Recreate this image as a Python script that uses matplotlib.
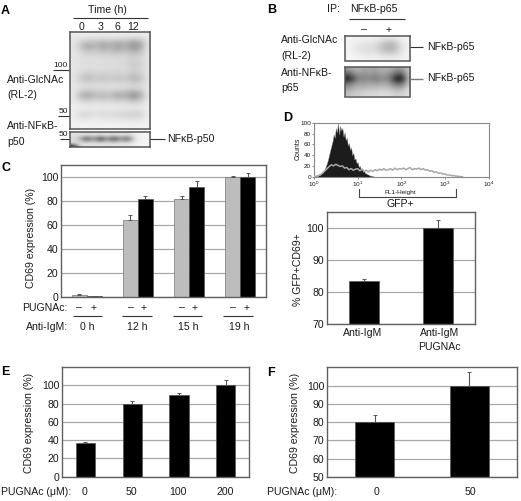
import numpy as np
import matplotlib
matplotlib.use("Agg")
import matplotlib.pyplot as plt

plt.rcParams['font.family'] = ['Liberation Sans', 'DejaVu Sans']
plt.rcParams['mathtext.fontset'] = 'custom'
plt.rcParams['mathtext.rm'] = 'Liberation Sans'
plt.rcParams['mathtext.default'] = 'regular'

W, H = 521, 501
BLACK = '#000000'
SPINE = '#606060'
GRID = '#a8a8a8'
TXT = '#1a1a1a'

# ---------- panel C ----------
c_groups = ['0 h', '12 h', '15 h', '19 h']
c_minus = [1.5, 64, 82, 100]
c_minus_err = [0.7, 4.5, 2.5, 1.2]
c_plus = [0.7, 81.5, 92, 100]
c_plus_err = [0.2, 2.8, 4.5, 3.5]
c_ticks = [0, 20, 40, 60, 80, 100]

# ---------- panel D ----------
d_labels = ['Anti-IgM', 'Anti-IgM']
d_vals = [83.3, 100]
d_errs = [0.7, 2.5]
d_ticks = [70, 80, 90, 100]

# flow histogram: counts every 0.025 decade from 10^0
d_black = [0, 0, 1, 1, 2, 3, 4, 6, 8, 11, 15, 20, 26, 33, 42, 50, 58, 66, 78, 72, 90, 82,
           100, 78, 94, 86, 90, 74, 82, 68, 72, 58, 62, 50, 54, 40, 44, 32, 34, 25, 27, 18,
           20, 13, 14, 9, 10, 6, 6, 4, 4, 2, 2, 1, 1, 0]
# grey histogram: counts every 0.05 decade from 10^0
d_grey = [0, 1, 2, 4, 7, 11, 15, 19, 22, 20, 23, 21, 19, 20, 16, 17, 13, 15, 12, 14, 15,
          11, 14, 10, 12, 9, 12, 10, 13, 11, 14, 12, 15, 12, 13, 15, 12, 16, 13, 15, 14,
          16, 13, 15, 17, 13, 15, 14, 16, 13, 15, 12, 13, 10, 11, 8, 9, 6, 7, 5, 5, 3, 3,
          2, 2, 1, 1, 0, 0]
d_hist_yticks = [0, 20, 40, 60, 80, 100]

# ---------- panel E ----------
e_labels = ['0', '50', '100', '200']
e_vals = [37, 80, 89.5, 100]
e_errs = [1.2, 2.3, 2.3, 6]
e_ticks = [0, 20, 40, 60, 80, 100]

# ---------- panel F ----------
f_labels = ['0', '50']
f_vals = [80, 100]
f_errs = [3.7, 7.5]
f_ticks = [50, 60, 70, 80, 90, 100]

# ---------- blots: darkness, coarse grid ----------
blot_a = [
    [.10, .10, .10, .10, .10, .10, .10, .10, .10, .10, .10],
    [.14, .16, .20, .20, .22, .20, .22, .22, .26, .26, .14],
    [.14, .28, .42, .34, .46, .38, .48, .38, .54, .50, .14],
    [.14, .32, .50, .36, .50, .40, .54, .42, .58, .52, .14],
    [.14, .22, .30, .27, .34, .30, .38, .30, .40, .36, .14],
    [.14, .18, .22, .20, .22, .22, .24, .22, .28, .26, .14],
    [.14, .17, .19, .18, .19, .19, .20, .20, .27, .24, .14],
    [.14, .17, .19, .18, .19, .19, .20, .20, .30, .28, .14],
    [.14, .17, .20, .19, .20, .20, .21, .20, .26, .24, .14],
    [.14, .22, .30, .25, .26, .24, .27, .24, .32, .30, .14],
    [.14, .30, .38, .28, .34, .28, .34, .28, .40, .36, .14],
    [.14, .22, .26, .22, .24, .22, .24, .22, .30, .28, .14],
    [.12, .16, .18, .17, .17, .17, .17, .17, .20, .20, .12],
    [.12, .30, .36, .28, .30, .26, .34, .32, .46, .38, .12],
    [.12, .42, .50, .36, .42, .34, .52, .42, .62, .50, .12],
    [.12, .24, .30, .22, .26, .22, .30, .24, .38, .32, .12],
    [.10, .12, .14, .13, .14, .13, .15, .14, .18, .16, .10],
    [.10, .11, .13, .12, .13, .12, .13, .13, .15, .14, .10],
    [.10, .22, .22, .16, .24, .18, .25, .24, .27, .26, .10],
    [.10, .16, .16, .12, .15, .14, .18, .18, .20, .18, .10],
    [.08, .09, .10, .09, .10, .09, .10, .10, .11, .10, .08],
    [.07, .07, .07, .07, .07, .07, .07, .07, .07, .07, .07],
]
blot_a2 = [
    [.12, .12, .13, .12, .13, .12, .13, .12, .13, .08, .05, .04],
    [.14, .16, .28, .18, .30, .18, .30, .18, .28, .10, .05, .04],
    [.14, .30, .72, .36, .78, .38, .74, .38, .66, .14, .05, .04],
    [.14, .24, .50, .28, .58, .30, .56, .30, .48, .12, .05, .04],
    [.22, .14, .15, .14, .16, .14, .15, .13, .14, .08, .05, .04],
    [.90, .12, .12, .12, .12, .11, .11, .10, .10, .07, .05, .04],
]
blot_b1 = [
    [.05, .05, .06, .06, .07, .08, .09, .08, .06, .05],
    [.05, .08, .10, .11, .12, .20, .30, .28, .12, .06],
    [.05, .10, .15, .16, .16, .28, .38, .34, .15, .06],
    [.05, .08, .12, .13, .13, .20, .26, .24, .12, .06],
    [.04, .05, .06, .07, .07, .08, .09, .09, .07, .05],
]
blot_b2 = [
    [.40, .34, .30, .38, .34, .38, .32, .32, .34, .40, .38, .24],
    [.62, .50, .40, .44, .40, .44, .38, .40, .48, .66, .58, .26],
    [.98, .76, .52, .52, .50, .56, .50, .48, .66, 1.0, .92, .30],
    [.58, .46, .38, .40, .36, .40, .36, .36, .46, .62, .56, .24],
    [.38, .32, .28, .28, .24, .26, .22, .24, .28, .34, .30, .16],
    [.26, .22, .20, .18, .16, .16, .14, .14, .16, .20, .18, .12],
]

fig = plt.figure(figsize=(W / 100, H / 100), dpi=100, facecolor='white')


def box(l, t, r, b):
    return fig.add_axes([l / W, 1 - b / H, (r - l) / W, (b - t) / H])


# overlay in pixel coordinates for labels and brackets
ov = fig.add_axes([0, 0, 1, 1], zorder=10)
ov.set_xlim(0, W)
ov.set_ylim(H, 0)
ov.axis('off')
ov.patch.set_alpha(0)


def T(x, y, s, ha='left', size=7.6, **kw):
    kw.setdefault('color', TXT)
    ov.text(x, y, s, ha=ha, va='center', fontsize=size, **kw)


def L(x0, x1, y0, y1=None, color='#333333', lw=0.8):
    ov.plot([x0, x1], [y0, y0 if y1 is None else y1], color=color, lw=lw, solid_capstyle='butt')


def barpanel(ax, ylim, ticks):
    ax.set_ylim(*ylim)
    ax.set_yticks(ticks)
    ax.set_xticks([])
    ax.yaxis.grid(True, color=GRID, lw=0.9)
    ax.set_axisbelow(True)
    ax.tick_params(axis='y', length=0, pad=2, labelsize=7.6, labelcolor=TXT)
    for s in ax.spines.values():
        s.set_color(SPINE)
        s.set_linewidth(1.0)


ekw = dict(ecolor='#555555', elinewidth=0.8, capsize=1.2, capthick=0.7)


def blot(ax, m, vmax=1.0):
    ax.imshow(np.array(m), cmap='gray_r', vmin=0, vmax=vmax, aspect='auto', interpolation='bicubic')
    ax.set_xticks([])
    ax.set_yticks([])
    for s in ax.spines.values():
        s.set_color('#555555')
        s.set_linewidth(1.1)


# ----- A -----
blot(box(69.5, 32, 150, 129), blot_a, vmax=1.4)
blot(box(69.5, 132, 150, 146.5), blot_a2, vmax=1.1)
T(1, 11, 'A', size=9, weight='bold', color='black')
T(107, 9.5, 'Time (h)', ha='center')
L(73, 148, 18)
for x, s in zip([81.7, 100.7, 117, 133], ['0', '3', '6', '12']):
    T(x, 26.5, s, ha='center')
T(68, 65.5, '100', ha='right', size=6)
L(53, 69, 70)
T(68, 111, '50', ha='right', size=6)
L(58, 69, 115.7)
T(68, 134, '50', ha='right', size=6)
L(60, 69, 139)
T(7, 80, 'Anti-GlcNAc')
T(7, 95, '(RL-2)')
T(7, 126, 'Anti-NFκB-')
T(7, 142, 'p50')
L(150, 165, 138.7)
T(167, 138.7, 'NFκB-p50')

# ----- B -----
blot(box(344.5, 36, 410, 60.5), blot_b1, vmax=1.15)
blot(box(344.5, 67, 410, 96.5), blot_b2, vmax=1.05)
T(267, 9.5, 'B', size=9, weight='bold', color='black')
T(327, 9, 'IP:')
T(350, 9, 'NFκB-p65')
L(349, 405, 19.3)
T(364, 29, '–', ha='center')
T(389, 30, '+', ha='center')
T(281, 40, 'Anti-GlcNAc')
T(281, 56, '(RL-2)')
T(281, 72.7, 'Anti-NFκB-')
T(281, 88, 'p65')
L(410, 423, 47.3)
T(426.7, 47, 'NFκB-p65')
L(410, 423, 79.3, color='#777777', lw=1.0)
T(426.7, 78, 'NFκB-p65')

# ----- C -----
ax = box(61, 165, 266, 297)
barpanel(ax, (0, 110), c_ticks)
x = np.arange(len(c_groups))
bw = 0.292
ax.bar(x - bw / 2, c_minus, bw, color='#bdbdbd', edgecolor='#777777', lw=0.5,
       yerr=[[0] * 4, c_minus_err], error_kw=ekw)
ax.bar(x + bw / 2, c_plus, bw, color=BLACK, edgecolor='#555555', lw=0.5,
       yerr=[[0] * 4, c_plus_err], error_kw=ekw)
ax.set_xlim(-0.5, 3.5)
T(1, 168, 'C', size=9, weight='bold', color='black')
T(30.7, 238, 'CD69 expression (%)', ha='center', rotation=90)
T(67.7, 308, 'PUGNAc:', ha='right')
T(67.7, 326.7, 'Anti-IgM:', ha='right')
for xm, xp, xl, l0, l1, g in zip([79, 131, 181.7, 233], [94, 144, 195, 247],
                                 [87, 137.7, 188, 239], [72.7, 122, 173, 223],
                                 [101.7, 151.7, 202, 253], c_groups):
    T(xm, 307.5, '–', ha='center')
    T(xp, 308, '+', ha='center')
    L(l0, l1, 316)
    T(xl, 326.7, g, ha='center')

# ----- D -----
ax = box(314, 122.7, 488.7, 176.7)
xb = 10 ** (np.arange(len(d_black)) * 0.025)
xg = 10 ** (np.arange(len(d_grey)) * 0.05)
ax.fill_between(xb, d_black, color='#1c1c1c', lw=0.3, edgecolor='#888888', zorder=2)
ax.plot(xg, d_grey, color='#a8a8a8', lw=1.1, zorder=4)
ax.set_xscale('log')
ax.set_xlim(1, 1e4)
ax.set_ylim(0, 100)
ax.set_yticks(d_hist_yticks)
ax.set_xticks([1, 10, 100, 1000, 10000])
ax.set_xticklabels(['$10^{0}$', '$10^{1}$', '$10^{2}$', '$10^{3}$', '$10^{4}$'])
ax.minorticks_off()
ax.tick_params(length=1.5, width=0.5, pad=0.5, labelsize=4.6, color='#555555', labelcolor=TXT)
for s in ax.spines.values():
    s.set_color('#888888')
    s.set_linewidth(0.8)
T(298.5, 149, 'Counts', ha='center', rotation=90, size=5)
T(400.7, 192.3, 'FL1-Height', ha='center', size=4.6)
ov.plot([359.3, 359.3, 455.7, 455.7], [188.5, 196.7, 196.7, 188.5], color='#444444', lw=0.8)
T(400.7, 204, 'GFP+', ha='center')
T(283, 118, 'D', size=9, weight='bold', color='black')

ax = box(326.7, 211.7, 475, 324)
barpanel(ax, (70, 105), d_ticks)
x = np.arange(2)
ax.bar(x, d_vals, 0.405, color=BLACK, edgecolor='#555555', lw=0.5,
       yerr=[[0, 0], d_errs], error_kw=ekw)
ax.set_xlim(-0.5, 1.5)
T(298, 270, '% GFP+CD69+', ha='center', rotation=90)
T(363, 333, d_labels[0], ha='center')
T(440, 333, d_labels[1], ha='center')
T(439, 347, 'PUGNAc', ha='center')

# ----- E -----
ax = box(62, 367, 249.3, 476.7)
barpanel(ax, (0, 120), e_ticks)
x = np.arange(4)
ax.bar(x, e_vals, 0.41, color=BLACK, edgecolor='#555555', lw=0.5,
       yerr=[[0] * 4, e_errs], error_kw=ekw)
ax.set_xlim(-0.5, 3.5)
T(1, 372, 'E', size=9, weight='bold', color='black')
T(29, 423, 'CD69 expression (%)', ha='center', rotation=90)
T(1, 492, 'PUGNAc (μM):')
for xl, s in zip([85, 131.7, 178, 225], e_labels):
    T(xl, 492, s, ha='center')

# ----- F -----
ax = box(327.3, 367.3, 516.7, 477)
barpanel(ax, (50, 110), f_ticks)
x = np.arange(2)
ax.bar(x, f_vals, 0.405, color=BLACK, edgecolor='#555555', lw=0.5,
       yerr=[[0, 0], f_errs], error_kw=ekw)
ax.set_xlim(-0.5, 1.5)
T(267, 373, 'F', size=9, weight='bold', color='black')
T(295, 422.7, 'CD69 expression (%)', ha='center', rotation=90)
T(267, 492, 'PUGNAc (μM):')
for xl, s in zip([376.7, 470.7], f_labels):
    T(xl, 492, s, ha='center')

fig.savefig('out.png', dpi=100)
